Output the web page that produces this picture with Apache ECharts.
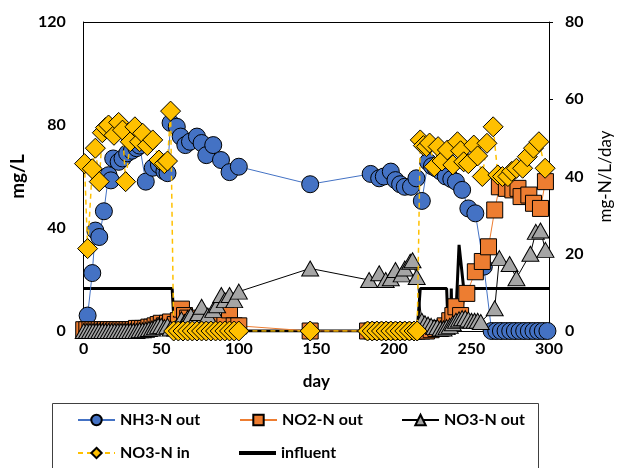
<!DOCTYPE html>
<html>
<head>
<meta charset="utf-8">
<script src="https://cdn.jsdelivr.net/npm/echarts@6/dist/echarts.min.js"></script>
<style>
  html, body { margin: 0; padding: 0; background: #fff; }
  #chart { width: 622px; height: 468px; }
</style>
</head>
<body>
<div id="chart"></div>
<script>
// Reactor nitrogen profile: outlet NH3/NO2/NO3, inlet NO3 (mg/L) and influent loading (mg-N/L/day)

const xTicks = { min: 0, max: 300, interval: 50 };
const leftTicks = { min: 0, max: 120, interval: 40 };
const rightTicks = { min: 0, max: 80, interval: 20 };

// [day, mg/L]
const nh3Out = [
  [2.5, 6], [5.5, 22.5], [7.5, 39], [10, 36.5], [13, 46.5], [16, 60.5], [17.5, 58.5], [19, 67],
  [22.5, 65.7], [25, 67], [28, 69], [31, 70], [34, 71], [36, 72], [40, 58], [44.5, 63.4],
  [48.5, 64.5], [52, 62], [54, 61.3], [56, 80.8], [60, 79.3], [62.5, 75.5], [65.5, 72.2],
  [68.5, 73.5], [73, 75.5], [76, 73], [79, 68.3], [83.5, 72.2], [88.5, 66.4], [94, 61.7],
  [100, 63.8], [146, 57], [185, 61], [190.5, 59.3], [193.5, 60], [198, 61.9], [201, 58.6],
  [204, 57], [207, 56], [211, 56], [214.5, 59.3], [218, 50.5], [222, 65.7], [224.5, 64],
  [227, 63.2], [230, 62], [233.5, 60], [237, 59], [240, 58], [244, 54.8], [248, 47.6],
  [252.5, 45.7], [258, 25], [263, 0], [266, 0], [269, 0], [272, 0], [275, 0], [278, 0],
  [281, 0], [284, 0], [287, 0], [290, 0], [293, 0], [296, 0], [299, 0]
];

const no2Out = [
  [0, 0.5], [2, 0.5], [4, 0.5], [6, 0.5], [8, 0.5], [10, 0.5], [12, 0.5], [14, 0.5], [16, 0.5],
  [18, 0.5], [20, 0.5], [22, 0.5], [24, 0.5], [26, 0.5], [28, 0.5], [30, 0.5], [32, 0.5],
  [34, 1], [36, 1], [38, 1], [40, 1], [42, 1.5], [44, 1.5], [46, 2], [48, 2.5], [50, 3],
  [52, 2], [54, 3], [56, 3.5],
  [59, 2.5], [61, 4], [63, 8.5], [65, 6], [67, 5], [70, 3], [73, 2], [76, 3], [79, 2],
  [82, 2], [85, 2], [88, 3], [91, 3], [94, 8.2], [97, 2], [100, 2],
  [146, 0],
  [183, 0], [186, 0], [189, 0], [192, 0], [195, 0], [198, 0], [201, 0], [204, 0], [207, 0],
  [210, 0], [213, 0], [215, 0],
  [218, 0], [221, 0], [224, 0.5], [227, 1], [230, 1], [233, 2], [236, 4], [238, 6],
  [240, 9.4], [243, 6], [247, 14.6], [252.5, 23], [257, 27], [261, 32.7], [265, 47],
  [268, 56], [272.5, 55.4], [276.7, 54.8], [280, 55.4], [282, 52.2], [287, 52.8],
  [290, 49.6], [294.5, 47.6], [297.7, 58]
];

const no3Out = [
  [0, 0], [2, 0], [4, 0], [6, 0], [8, 0], [10, 0], [12, 0], [14, 0], [16, 0], [18, 0],
  [20, 0], [22, 0], [24, 0], [26, 0], [28, 0], [30, 0], [32, 0], [34, 0], [36, 0.3],
  [38, 0.3], [40, 0.5], [42, 0.8], [44, 1], [46, 1.5], [48, 2], [50, 2], [52, 1.5],
  [54, 2], [56, 1],
  [59, 1], [61, 2], [63, 4.5], [65, 3.5], [67, 5], [69, 6], [72, 5], [74, 7], [76, 9.4],
  [80, 6], [83.5, 8.2], [86, 10], [88.7, 14], [91, 12], [94, 14], [97, 12], [100, 15.3],
  [146, 24.3],
  [184, 19.8], [190.5, 22.4], [194.7, 19.8], [198, 20.5], [201, 23.7], [205, 22],
  [207, 24.3], [210.5, 26.9], [212, 27.5], [214.7, 21],
  [218, 4], [220, 3], [222, 2.5], [224, 2], [226, 1.5], [228, 1.5], [230, 1], [232, 1],
  [234, 1.5], [236, 2], [238, 3], [240, 4], [242, 4.5], [244, 5], [246, 5], [248, 4.5],
  [250, 4], [252, 4], [254, 4], [256, 3.5],
  [265, 8.8], [268, 28.3], [274.6, 26], [279, 20.5], [288, 30], [291.5, 38.5],
  [294.5, 39], [297.7, 31.5]
];

const no3In = [
  [0.5, 65], [2.5, 32], [5.5, 63], [7.5, 71], [10, 58], [12, 77], [14, 79], [16, 80],
  [19.5, 76], [22.5, 81], [25, 78], [27, 58], [30, 73.5], [33, 79.3], [36, 73.5],
  [38, 76.8], [41, 72], [44.5, 74.2], [48.5, 66.4], [52, 65], [54, 66], [56, 85.4],
  [58, 0], [61, 0], [64, 0], [67, 0], [70, 0], [73, 0], [76, 0], [79, 0], [82, 0], [85, 0],
  [88, 0], [91, 0], [94, 0], [97, 0], [100, 0],
  [146, 0],
  [183, 0], [186, 0], [189, 0], [192, 0], [195, 0], [198, 0], [201, 0], [204, 0], [207, 0],
  [210, 0], [213, 0], [215, 0],
  [217, 74.2], [219, 72], [221, 71.6], [223, 73], [226, 63.8], [228.5, 71.6], [231, 66],
  [234.5, 70.3], [238, 64.5], [241, 73.5], [243, 70], [245, 65.7], [248, 65],
  [251.5, 72.2], [254, 68], [257, 60], [260, 72.9], [264, 79.3], [267, 60.6], [270, 60],
  [273.5, 60], [276, 62], [279, 63.2], [283, 63.2], [286, 67.7], [290, 71], [293.5, 73.5],
  [297.5, 63.2]
];

// [day, mg-N/L/day]
const influent = [
  [0, 11], [57, 11], [58.5, 0], [215, 0], [217, 11], [234, 11], [235, 0], [236.5, 0],
  [237, 11], [237.5, 0], [239.5, 0], [242, 22.3], [245, 11], [300, 11]
];

const FONT = 'Lato, "Open Sans", sans-serif';
const BORDER = { borderColor: '#000', borderWidth: 1 };

const chart = echarts.init(document.getElementById('chart'), null, { renderer: 'canvas' });

function legendAt(item, left, top, extra) {
  return Object.assign({
    data: [item], left: left, top: top, padding: 0,
    itemWidth: 37, itemHeight: 13,
    textStyle: { fontFamily: FONT, fontWeight: 'bold', fontSize: 16, color: '#000' },
    selectedMode: false
  }, extra || {});
}

chart.setOption({
  animation: false,
  backgroundColor: '#fff',
  grid: { left: 81, right: 65, top: 22, bottom: 137, containLabel: false },
  xAxis: [{
    type: 'value', min: xTicks.min, max: xTicks.max, interval: xTicks.interval,
    name: 'day', nameLocation: 'middle', nameGap: 42,
    nameTextStyle: { fontFamily: FONT, fontWeight: 'bold', fontSize: 17, color: '#000' },
    axisLine: { onZero: false, lineStyle: { color: '#000', width: 1 } },
    axisTick: { show: false },
    axisLabel: { margin: 10, fontFamily: FONT, fontWeight: 'bold', fontSize: 16, color: '#000' },
    splitLine: { show: false }
  }, {
    type: 'value', position: 'top', min: xTicks.min, max: xTicks.max,
    axisLine: { show: true, onZero: false, lineStyle: { color: '#000', width: 1 } },
    axisTick: { show: false }, axisLabel: { show: false }, splitLine: { show: false }
  }],
  yAxis: [{
    type: 'value', min: leftTicks.min, max: leftTicks.max, interval: leftTicks.interval,
    position: 'left',
    name: 'mg/L', nameLocation: 'middle', nameGap: 43, nameRotate: 90,
    nameTextStyle: { fontFamily: FONT, fontWeight: 'bold', fontSize: 19, color: '#000' },
    axisLine: { show: true, onZero: false, lineStyle: { color: '#000', width: 1 } },
    axisTick: { show: false },
    axisLabel: { margin: 18, fontFamily: FONT, fontWeight: 'bold', fontSize: 16, color: '#000' },
    splitLine: { show: false }
  }, {
    type: 'value', min: rightTicks.min, max: rightTicks.max, interval: rightTicks.interval,
    position: 'right',
    name: 'mg-N/L/day', nameLocation: 'middle', nameGap: 48, nameRotate: 90,
    nameTextStyle: { fontFamily: FONT, fontSize: 17, color: '#000' },
    axisLine: { show: true, onZero: false, lineStyle: { color: '#000', width: 1 } },
    axisTick: { show: true, inside: false, length: 4, lineStyle: { color: '#000' } },
    axisLabel: { margin: 16, fontFamily: FONT, fontWeight: 'bold', fontSize: 16, color: '#000' },
    splitLine: { show: false }
  }],
  legend: [
    legendAt('NH3-N out', 77, 412),
    legendAt('NO2-N out', 239, 412),
    legendAt('NO3-N out', 401, 412),
    legendAt('NO3-N in', 77, 445),
    legendAt({ name: 'influent', icon: 'rect' }, 239, 445, { itemHeight: 4 })
  ],
  graphic: [{
    type: 'rect', silent: true,
    shape: { x: 52.5, y: 403.5, width: 486, height: 80 },
    style: { fill: null, stroke: '#404040', lineWidth: 1 }
  }],
  series: [{
    name: 'influent', type: 'line', yAxisIndex: 1, data: influent, z: 1,
    showSymbol: false, symbol: 'none',
    lineStyle: { color: '#000', width: 3 }, itemStyle: { color: '#000' }
  }, {
    name: 'NH3-N out', type: 'line', data: nh3Out, z: 2,
    symbol: 'circle', symbolSize: 17,
    lineStyle: { color: '#4472C4', width: 1 },
    itemStyle: Object.assign({ color: '#4472C4' }, BORDER)
  }, {
    name: 'NO2-N out', type: 'line', data: no2Out, z: 3,
    symbol: 'rect', symbolSize: 16,
    lineStyle: { color: '#ED7D31', width: 1 },
    itemStyle: Object.assign({ color: '#ED7D31' }, BORDER)
  }, {
    name: 'NO3-N out', type: 'line', data: no3Out, z: 4,
    symbol: 'triangle', symbolSize: [17, 15],
    lineStyle: { color: '#000', width: 1 },
    itemStyle: Object.assign({ color: '#A5A5A5' }, BORDER)
  }, {
    name: 'NO3-N in', type: 'line', data: no3In, z: 5,
    symbol: 'diamond', symbolSize: 20,
    lineStyle: { color: '#FFC000', width: 1.5, type: [5, 4] },
    itemStyle: Object.assign({ color: '#FFC000' }, BORDER)
  }]
});
</script>
</body>
</html>
